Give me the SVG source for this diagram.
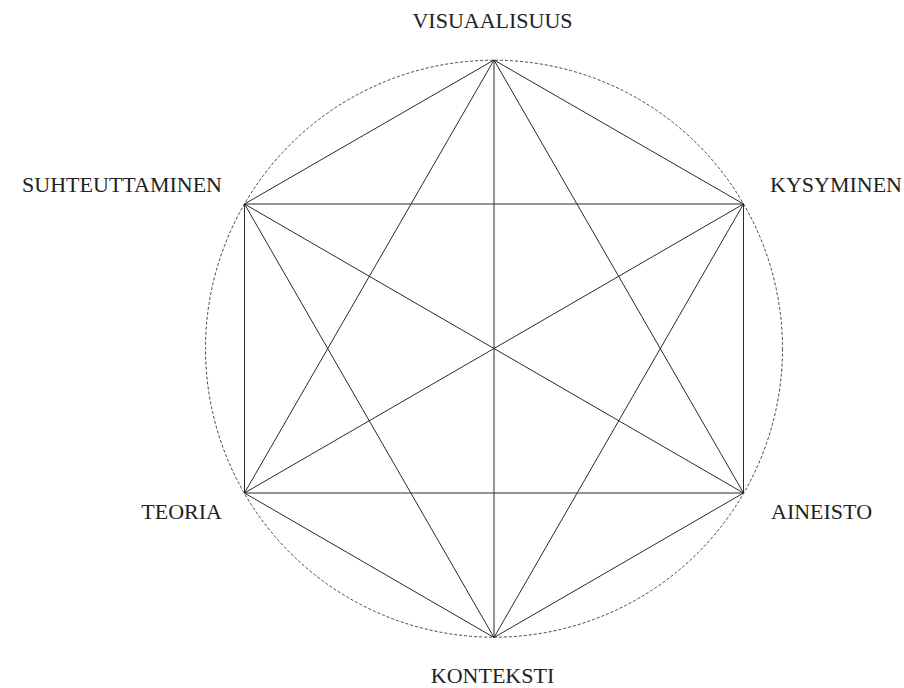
<svg xmlns="http://www.w3.org/2000/svg" width="904" height="688" viewBox="0 0 904 688">
<style>
.lbl{font-family:"Liberation Serif","Times New Roman",serif;font-size:22px;fill:#222}
.edge{stroke:#2a2a2a;stroke-width:1;fill:none}
.ring{stroke:#444;stroke-width:1;stroke-dasharray:3 2;fill:none}
</style>
<rect width="904" height="688" fill="#fff"/>
<circle class="ring" cx="494" cy="348.7" r="288.5"/>
<g id="connectors">
<line class="edge" x1="494" y1="60" x2="743.5" y2="204"/>
<line class="edge" x1="494" y1="60" x2="743.5" y2="493"/>
<line class="edge" x1="494" y1="60" x2="494" y2="637.5"/>
<line class="edge" x1="494" y1="60" x2="244.5" y2="493"/>
<line class="edge" x1="494" y1="60" x2="244.5" y2="204"/>
<line class="edge" x1="743.5" y1="204" x2="743.5" y2="493"/>
<line class="edge" x1="743.5" y1="204" x2="494" y2="637.5"/>
<line class="edge" x1="743.5" y1="204" x2="244.5" y2="493"/>
<line class="edge" x1="743.5" y1="204" x2="244.5" y2="204"/>
<line class="edge" x1="743.5" y1="493" x2="494" y2="637.5"/>
<line class="edge" x1="743.5" y1="493" x2="244.5" y2="493"/>
<line class="edge" x1="743.5" y1="493" x2="244.5" y2="204"/>
<line class="edge" x1="494" y1="637.5" x2="244.5" y2="493"/>
<line class="edge" x1="494" y1="637.5" x2="244.5" y2="204"/>
<line class="edge" x1="244.5" y1="493" x2="244.5" y2="204"/>
</g>
<g id="visuaalisuus"><text class="lbl" x="492.5" y="28" text-anchor="middle">VISUAALISUUS</text></g>
<g id="kysyminen"><text class="lbl" x="770" y="192" text-anchor="start">KYSYMINEN</text></g>
<g id="aineisto"><text class="lbl" x="771" y="518.5" text-anchor="start">AINEISTO</text></g>
<g id="konteksti"><text class="lbl" x="492.5" y="683" text-anchor="middle">KONTEKSTI</text></g>
<g id="teoria"><text class="lbl" x="222" y="518.5" text-anchor="end">TEORIA</text></g>
<g id="suhteuttaminen"><text class="lbl" x="222" y="192" text-anchor="end">SUHTEUTTAMINEN</text></g>
</svg>
